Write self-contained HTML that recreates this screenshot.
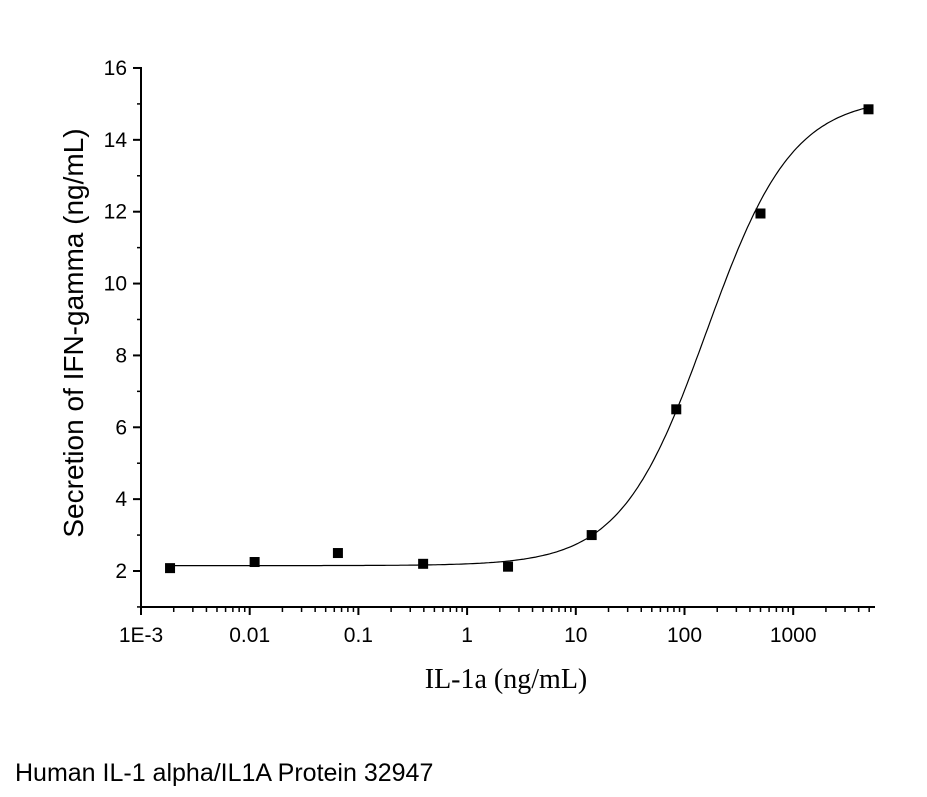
<!DOCTYPE html>
<html><head><meta charset="utf-8"><style>
body{margin:0;background:#fff;width:927px;height:797px;overflow:hidden}
svg{display:block}
</style></head><body>
<svg id="chart" width="927" height="797" font-family="'Liberation Sans',sans-serif">
<g id="axes"></g>
<g id="curve"></g>
<g id="points"></g>
<text transform="translate(83,333) rotate(-90)" text-anchor="middle" font-size="28">Secretion of IFN-gamma (ng/mL)</text>
<text x="506" y="688" text-anchor="middle" font-size="28" font-family="'Liberation Serif',serif">IL-1a (ng/mL)</text>
<text x="15" y="781" font-size="25">Human IL-1 alpha/IL1A Protein 32947</text>
</svg>
<script>
const concentrations=[0.00185,0.0111,0.0648,0.394,2.38,14,84,500,4930];
const secretion=[2.08,2.25,2.5,2.2,2.12,3.0,6.5,11.95,14.85];
const xTickValues=[0.001,0.01,0.1,1,10,100,1000];
const xTickLabels=["1E-3","0.01","0.1","1","10","100","1000"];
const yTickValues=[2,4,6,8,10,12,14,16];
const fitParams=[2.15,15.2,160,1.1]; // bottom, top, EC50, hill
const NS="http://www.w3.org/2000/svg";
const X0=141,PX=108.7,Y2=571,PY=35.93;
const xs=v=>X0+(Math.log10(v)+3)*PX;
const ys=v=>Y2-(v-2)*PY;
function mk(t,a,p){const e=document.createElementNS(NS,t);for(const k in a)e.setAttribute(k,a[k]);p.appendChild(e);return e;}
const ax=document.getElementById('axes');
const xl=mk('line',{x1:X0,y1:607,x2:875,y2:607,stroke:'#000','stroke-width':2},ax);


const yl=mk('line',{x1:X0,y1:67,x2:X0,y2:607,stroke:'#000','stroke-width':2},ax);


for(let d=-3;d<4;d++){for(let m=2;m<10;m++){const x=xs(m*Math.pow(10,d));if(x>875)break;mk('line',{x1:x,y1:607,x2:x,y2:612,stroke:'#000','stroke-width':1.5},ax);}}
xTickValues.forEach((v,i)=>{const x=xs(v);mk('line',{x1:x,y1:607,x2:x,y2:615,stroke:'#000','stroke-width':2},ax);
const t=mk('text',{x:x,y:642,'text-anchor':'middle','font-size':21},ax);t.textContent=xTickLabels[i];

});
yTickValues.forEach(v=>{const y=ys(v);mk('line',{x1:X0-8,y1:y,x2:X0,y2:y,stroke:'#000','stroke-width':2},ax);
mk('line',{x1:X0-4,y1:ys(v-1),x2:X0,y2:ys(v-1),stroke:'#000','stroke-width':1.5},ax);
const t=mk('text',{x:X0-14,y:y+7,'text-anchor':'end','font-size':21},ax);t.textContent=v;

});
const [b,tp,ec,h]=fitParams;let d='';
for(let i=0;i<=300;i++){const lx=Math.log10(concentrations[0])+i*(Math.log10(concentrations[concentrations.length-1])-Math.log10(concentrations[0]))/300;
const c=Math.pow(10,lx);const r=Math.pow(c/ec,h);const v=b+(tp-b)*r/(1+r);d+=(i?'L':'M')+xs(c).toFixed(1)+','+ys(v).toFixed(1);}
const p=mk('path',{d:d,fill:'none',stroke:'#000','stroke-width':1.2},document.getElementById('curve'));


const pg=document.getElementById('points');
concentrations.forEach((c,i)=>{const r=mk('rect',{x:xs(c)-5,y:ys(secretion[i])-5,width:10,height:10,fill:'#000'},pg);

});
</script>
</body></html>
